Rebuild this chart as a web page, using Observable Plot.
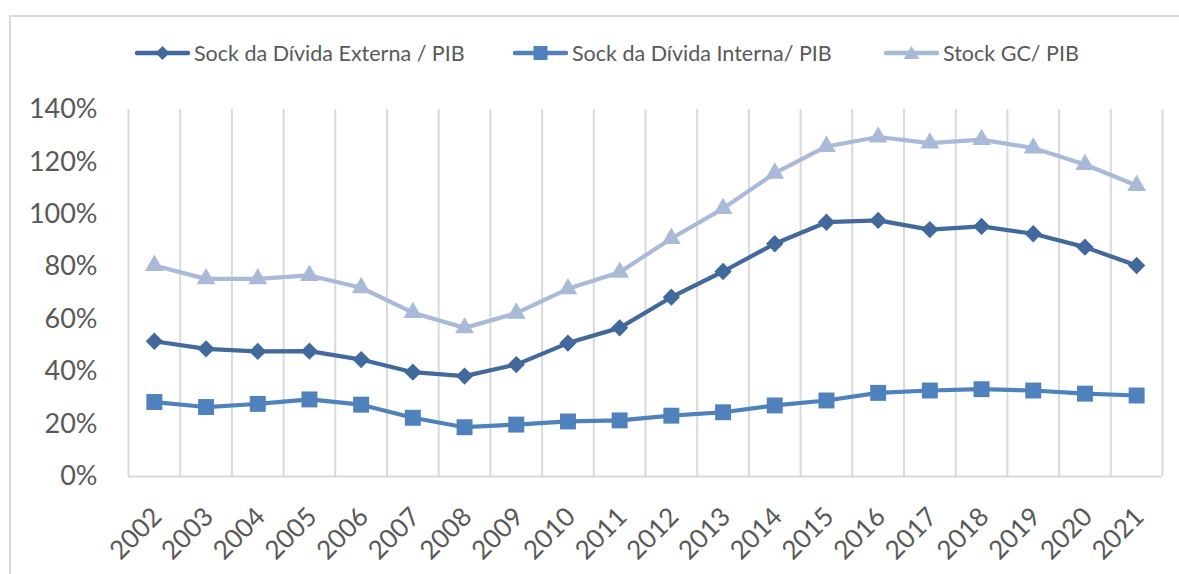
<!DOCTYPE html>
<html>
<head>
<meta charset="utf-8">
<script src="https://cdn.jsdelivr.net/npm/d3@7"></script>
<script src="https://cdn.jsdelivr.net/npm/@observablehq/plot@0.6"></script>
<style>
  html, body { margin: 0; padding: 0; background: #fff; }
  body { width: 1179px; height: 574px; overflow: hidden; position: relative; font-family: "Lato", "Open Sans", sans-serif; color: #595959; }
  #frame { position: absolute; left: 9px; top: 15px; width: 1210px; height: 620px; border: 2px solid #d9d9d9; box-sizing: border-box; }
  .leg { position: absolute; top: 38px; height: 30px; display: flex; align-items: center; font-size: 21.5px; white-space: nowrap; }
  .leg svg { margin-right: 4px; }
  #chart { position: absolute; left: 0; top: 90px; }
</style>
</head>
<body>
<div id="frame"></div>
<div id="legend"></div>
<div id="chart"></div>
<script>
const years = ["2002","2003","2004","2005","2006","2007","2008","2009","2010","2011","2012","2013","2014","2015","2016","2017","2018","2019","2020","2021"];
const externa = [51.6,48.7,47.7,47.8,44.6,39.8,38.3,42.7,50.9,56.7,68.4,78.2,88.8,97.0,97.7,94.2,95.4,92.6,87.5,80.5];
const interna = [28.4,26.5,27.7,29.4,27.4,22.4,18.8,19.8,21.0,21.4,23.2,24.5,27.1,29.0,31.9,32.8,33.3,32.8,31.6,30.9];
const stockGC = [80.5,75.4,75.4,76.7,72.0,62.5,56.7,62.3,71.6,77.9,90.8,102.2,115.7,125.9,129.5,127.2,128.5,125.3,119.0,111.0];
const yTicks = [0,20,40,60,80,100,120,140];
const seriesNames = ["Sock da Dívida Externa / PIB","Sock da Dívida Interna/ PIB","Stock GC/ PIB"];
const seriesColors = ["#41699B","#4F81BD","#A9B9D8"];
const seriesSymbols = ["diamond2","square","triangle"];

const idx = years.map((_, i) => i);
const gridPos = d3.range(-0.5, years.length, 1);
const seriesValues = [externa, interna, stockGC];
const symbolR = {diamond2: 7.8, square: 9, triangle: 7};

// legend (HTML with small inline SVG keys)
const legendLeft = [135, 513, 884];
const legend = document.getElementById("legend");
seriesNames.forEach((name, k) => {
  const item = document.createElement("div");
  item.className = "leg";
  item.style.left = legendLeft[k] + "px";
  const w = 55;
  let marker;
  const c = seriesColors[k];
  if (seriesSymbols[k] === "diamond2") marker = `<path d="M${w/2},8 L${w/2+7},15 L${w/2},22 L${w/2-7},15Z" fill="${c}"/>`;
  else if (seriesSymbols[k] === "square") marker = `<rect x="${w/2-7}" y="8" width="14" height="14" fill="${c}"/>`;
  else marker = `<path d="M${w/2},8 L${w/2+8},21 L${w/2-8},21Z" fill="${c}"/>`;
  item.innerHTML = `<svg width="${w}" height="30"><line x1="2" x2="${w-2}" y1="15" y2="15" stroke="${c}" stroke-width="4.5" stroke-linecap="round"/>${marker}</svg><span>${name}</span>`;
  legend.appendChild(item);
});

const marks = [
  Plot.ruleX(gridPos, {stroke: "#d9d9d9", strokeWidth: 2}),
  Plot.ruleY([0], {stroke: "#d9d9d9", strokeWidth: 2}),
  Plot.axisY({ticks: yTicks, tickFormat: d => d + "%", tickSize: 0, tickPadding: 31, fontSize: 27, fill: "#595959"}),
  Plot.axisX({ticks: idx, tickFormat: i => years[i], tickRotate: -45, tickSize: 0, tickPadding: 36, fontSize: 26, fill: "#595959", dx: 3})
];
seriesValues.forEach((vals, k) => {
  marks.push(Plot.line(idx, {x: i => i, y: i => vals[i], stroke: seriesColors[k], strokeWidth: 4.2}));
  marks.push(Plot.dot(idx, {x: i => i, y: i => vals[i], symbol: seriesSymbols[k], r: symbolR[seriesSymbols[k]], fill: seriesColors[k], stroke: "none"}));
});

const chart = Plot.plot({
  width: 1179,
  height: 484,
  marginTop: 19,
  marginBottom: 98,
  marginLeft: 128,
  marginRight: 17,
  x: {domain: [-0.5, years.length - 0.5], axis: null},
  y: {domain: [0, 140], axis: null},
  style: {background: "transparent", fontFamily: "Lato, 'Open Sans', sans-serif", color: "#595959", overflow: "visible"},
  marks
});
document.getElementById("chart").appendChild(chart);
</script>
</body>
</html>
